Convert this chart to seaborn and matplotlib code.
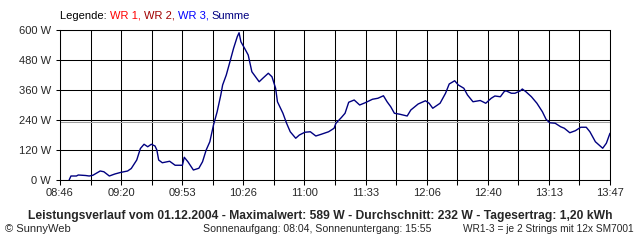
import numpy as np
import pandas as pd
import matplotlib
matplotlib.use("Agg")
import matplotlib.pyplot as plt
import seaborn as sns

# ---- data ----
times = ["08:51", "08:52", "08:55", "08:56", "09:00", "09:02", "09:04", "09:08", "09:10", "09:13",
         "09:16", "09:19", "09:23", "09:25", "09:28", "09:30", "09:32", "09:34", "09:36", "09:38",
         "09:39", "09:40", "09:42", "09:46", "09:49", "09:53", "09:54", "09:56", "09:59", "10:02",
         "10:04", "10:06", "10:08", "10:10", "10:12", "10:14", "10:15", "10:17", "10:19", "10:21",
         "10:23", "10:24", "10:25", "10:27", "10:29", "10:31", "10:33", "10:35", "10:37", "10:40",
         "10:42", "10:44", "10:45", "10:48", "10:50", "10:52", "10:55", "10:57", "11:00", "11:03",
         "11:06", "11:09", "11:13", "11:16", "11:17", "11:20", "11:22", "11:24", "11:27", "11:30",
         "11:33", "11:37", "11:40", "11:43", "11:45", "11:47", "11:49", "11:52", "11:56", "11:58",
         "12:02", "12:06", "12:08", "12:10", "12:14", "12:17", "12:19", "12:22", "12:24", "12:27",
         "12:29", "12:32", "12:36", "12:39", "12:42", "12:44", "12:47", "12:49", "12:50", "12:53",
         "12:55", "12:58", "12:59", "13:01", "13:04", "13:07", "13:10", "13:12", "13:14", "13:17",
         "13:20", "13:22", "13:25", "13:28", "13:31", "13:34", "13:36", "13:39", "13:41", "13:43",
         "13:45", "13:47"]
summe_w = [0, 16, 16, 20, 18, 16, 19, 36, 33, 16,
           24, 30, 36, 46, 80, 126, 143, 133, 143, 136,
           120, 80, 69, 75, 59, 59, 91, 73, 40, 47,
           73, 120, 153, 220, 273, 340, 380, 420, 473, 527,
           573, 589, 553, 527, 500, 433, 413, 393, 407, 427,
           413, 367, 313, 267, 227, 193, 167, 180, 191, 193,
           176, 183, 193, 207, 227, 250, 267, 311, 320, 300,
           309, 323, 327, 337, 313, 293, 267, 263, 256, 280,
           304, 317, 307, 287, 307, 347, 384, 397, 380, 367,
           340, 313, 318, 307, 327, 336, 333, 353, 357, 347,
           347, 357, 364, 353, 333, 307, 273, 243, 229, 227,
           213, 207, 189, 197, 211, 211, 193, 153, 140, 127,
           147, 187]
x_tick_labels = ["08:46", "09:20", "09:53", "10:26", "11:00", "11:33", "12:06", "12:40", "13:13", "13:47"]
y_ticks = [0, 120, 240, 360, 480, 600]
average_w = 232

title_text = "Leistungsverlauf vom 01.12.2004 - Maximalwert: 589 W - Durchschnitt: 232 W - Tagesertrag: 1,20 kWh"
footer_left = "© SunnyWeb"
footer_mid = "Sonnenaufgang: 08:04, Sonnenuntergang: 15:55"
footer_right = "WR1-3 = je 2 Strings mit 12x SM7001"
legend_parts = [("Legende: ", "#000000"), ("WR 1, ", "#ff0000"), ("WR 2, ", "#a00000"),
                ("WR 3, ", "#0000ff"), ("Summe", "#000080")]


def to_min(t):
    h, m = t.split(":")
    return int(h) * 60 + int(m)


df = pd.DataFrame({"t": [to_min(t) for t in times], "w": summe_w})

sns.set_style("white")
plt.rcParams["font.family"] = ["Liberation Sans", "DejaVu Sans"]

fig = plt.figure(figsize=(6.4, 2.4), dpi=100)
ax = fig.add_axes([60 / 640, 60 / 240, 550 / 640, 150 / 240])

t0 = to_min(x_tick_labels[0])
t1 = to_min(x_tick_labels[-1])
grid_x = np.linspace(t0, t1, 2 * (len(x_tick_labels) - 1) + 1)

for gx in grid_x:
    ax.axvline(gx, color="black", lw=0.75, zorder=1)
for gy in y_ticks:
    ax.axhline(gy, color="black", lw=0.75, zorder=1)
ax.axhline(average_w, color="#a0a0a0", lw=0.75, zorder=1)

sns.lineplot(data=df, x="t", y="w", ax=ax, color="#000080", lw=1.0, zorder=3)

ax.set_xlim(t0, t1)
ax.set_ylim(0, 600)
ax.set_xticks(grid_x)
ax.set_xticklabels([x_tick_labels[i // 2] if i % 2 == 0 else "" for i in range(len(grid_x))])
ax.set_yticks(y_ticks)
ax.set_yticklabels([f"{v} W" for v in y_ticks])
ax.set_xlabel("")
ax.set_ylabel("")
ax.tick_params(axis="x", length=3.6, width=0.75, pad=2, labelsize=8, color="black", direction="out", bottom=True)
ax.tick_params(axis="y", length=2.9, width=0.75, pad=3.5, labelsize=8, color="black", direction="out", left=True)
for s in ax.spines.values():
    s.set_color("black")
    s.set_linewidth(0.75)

# legend line
x = 60 / 640
y = 1 - 16 / 240
renderer = fig.canvas.get_renderer()
for txt, col in legend_parts:
    tt = fig.text(x, y, txt, color=col, fontsize=8, va="center", ha="left")
    bb = tt.get_window_extent(renderer=renderer)
    x += bb.width / 640

fig.text(320 / 640, 1 - 216 / 240, title_text, fontsize=8.7, fontweight="bold", ha="center", va="center")
fig.text(5 / 640, 1 - 229 / 240, footer_left, fontsize=8, ha="left", va="center")
fig.text(203 / 640, 1 - 229 / 240, footer_mid, fontsize=7.6, ha="left", va="center")
fig.text(634 / 640, 1 - 229 / 240, footer_right, fontsize=7.3, ha="right", va="center")

fig.savefig("out.png", dpi=100, facecolor="white")
